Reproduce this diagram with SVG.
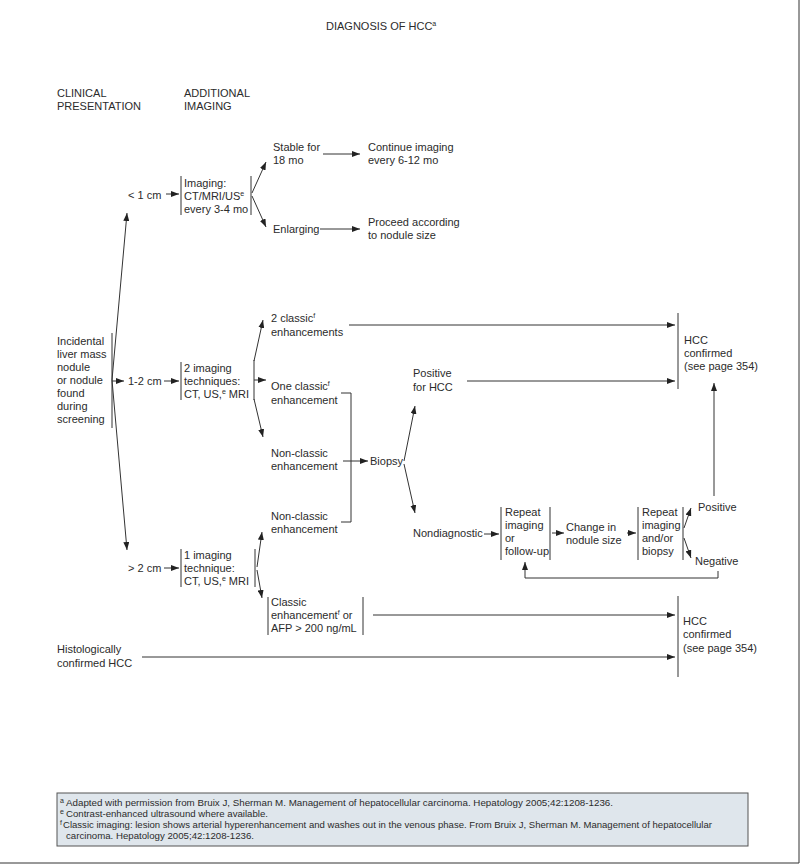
<svg xmlns="http://www.w3.org/2000/svg" width="800" height="865" viewBox="0 0 800 865">
<style>
text{font-family:"Liberation Sans",Arial,sans-serif;font-size:11px;fill:#2b2b2b}
.sup{font-size:7px}
.fn{font-size:9px}
.fs{font-size:7px}
.ln{stroke:#333;stroke-width:1;fill:none}
.ar{stroke:#333;stroke-width:1;fill:none;marker-end:url(#ah)}
.bar{stroke:#333;stroke-width:1}
</style>
<defs>
<marker id="ah" viewBox="0 0 8 6" refX="8" refY="3" markerWidth="8" markerHeight="6" orient="auto" markerUnits="userSpaceOnUse"><path d="M0,0L8,3L0,6z" fill="#222"/></marker>
</defs>
<rect width="800" height="865" fill="#fff"/>
<path d="M799,0V863H0" class="ln"/>

<g id="title"><text x="326" y="30">DIAGNOSIS OF HCC<tspan class="sup" dy="-4">a</tspan></text></g>
<g id="hdr-clinical"><text x="57" y="97">CLINICAL</text><text x="57" y="110">PRESENTATION</text></g>
<g id="hdr-imaging"><text x="184" y="97">ADDITIONAL</text><text x="184" y="110">IMAGING</text></g>

<g id="n-incidental">
<line class="bar" x1="112" y1="333" x2="112" y2="428"/>
<text x="57" y="345">Incidental</text><text x="57" y="358">liver mass</text><text x="57" y="371">nodule</text><text x="57" y="384">or nodule</text><text x="57" y="397">found</text><text x="57" y="410">during</text><text x="57" y="423">screening</text>
</g>
<g id="n-lt1"><text x="128" y="199">&lt; 1 cm</text></g>
<g id="n-12"><text x="128" y="385">1-2 cm</text></g>
<g id="n-gt2"><text x="128" y="572">&gt; 2 cm</text></g>

<g id="n-imaging1">
<line class="bar" x1="181" y1="176" x2="181" y2="215"/><line class="bar" x1="251" y1="176" x2="251" y2="215"/>
<text x="184" y="187">Imaging:</text><text x="184" y="200">CT/MRI/US<tspan class="sup" dy="-4">e</tspan></text><text x="184" y="213">every 3-4 mo</text>
</g>
<g id="n-stable"><text x="273" y="151">Stable for</text><text x="273" y="164">18 mo</text></g>
<g id="n-continue"><text x="368" y="151">Continue imaging</text><text x="368" y="164">every 6-12 mo</text></g>
<g id="n-enlarging"><text x="273" y="233">Enlarging</text></g>
<g id="n-proceed"><text x="368" y="226">Proceed according</text><text x="368" y="239">to nodule size</text></g>

<g id="n-imaging2">
<line class="bar" x1="181" y1="362" x2="181" y2="400"/><line class="bar" x1="254" y1="360" x2="254" y2="400"/>
<text x="184" y="372">2 imaging</text><text x="184" y="385">techniques:</text><text x="184" y="398">CT, US,<tspan class="sup" dy="-4">e</tspan><tspan dy="4"> MRI</tspan></text>
</g>
<g id="n-2classic"><text x="271" y="322">2 classic<tspan class="sup" dy="-4">f</tspan></text><text x="271" y="336">enhancements</text></g>
<g id="n-1classic"><text x="271" y="390">One classic<tspan class="sup" dy="-4">f</tspan></text><text x="271" y="404">enhancement</text></g>
<g id="n-nonclassic1"><text x="271" y="457">Non-classic</text><text x="271" y="470">enhancement</text></g>
<g id="n-nonclassic2"><text x="271" y="520">Non-classic</text><text x="271" y="533">enhancement</text></g>
<g id="n-biopsy"><text x="370" y="465">Biopsy</text></g>
<g id="n-positive-hcc"><text x="413" y="377">Positive</text><text x="413" y="391">for HCC</text></g>
<g id="n-nondiag"><text x="413" y="537">Nondiagnostic</text></g>
<g id="n-hcc1">
<line class="bar" x1="678" y1="313" x2="678" y2="389"/>
<text x="684" y="344">HCC</text><text x="684" y="357">confirmed</text><text x="684" y="370">(see page 354)</text>
</g>
<g id="n-repeat1">
<line class="bar" x1="501" y1="507" x2="501" y2="560"/><line class="bar" x1="550" y1="507" x2="550" y2="560"/>
<text x="505" y="516">Repeat</text><text x="505" y="529">imaging</text><text x="505" y="542">or</text><text x="505" y="555">follow-up</text>
</g>
<g id="n-change"><text x="566" y="531">Change in</text><text x="566" y="544">nodule size</text></g>
<g id="n-repeat2">
<line class="bar" x1="638" y1="507" x2="638" y2="560"/><line class="bar" x1="683" y1="507" x2="683" y2="560"/>
<text x="642" y="516">Repeat</text><text x="642" y="529">imaging</text><text x="642" y="542">and/or</text><text x="642" y="555">biopsy</text>
</g>
<g id="n-positive"><text x="698" y="511">Positive</text></g>
<g id="n-negative"><text x="695" y="565">Negative</text></g>

<g id="n-imaging3">
<line class="bar" x1="181" y1="549" x2="181" y2="587"/><line class="bar" x1="255" y1="549" x2="255" y2="587"/>
<text x="184" y="559">1 imaging</text><text x="184" y="572">technique:</text><text x="184" y="585">CT, US,<tspan class="sup" dy="-4">e</tspan><tspan dy="4"> MRI</tspan></text>
</g>
<g id="n-classic">
<line class="bar" x1="268" y1="597" x2="268" y2="635"/><line class="bar" x1="363" y1="597" x2="363" y2="635"/>
<text x="271" y="606">Classic</text><text x="271" y="619">enhancement<tspan class="sup" dy="-4">f</tspan><tspan dy="4"> or</tspan></text><text x="271" y="632">AFP &gt; 200 ng/mL</text>
</g>
<g id="n-hcc2">
<line class="bar" x1="678" y1="596" x2="678" y2="677"/>
<text x="683" y="625">HCC</text><text x="683" y="638">confirmed</text><text x="683" y="652">(see page 354)</text>
</g>
<g id="n-histo"><text x="57" y="653">Histologically</text><text x="57" y="667">confirmed HCC</text></g>

<g id="connectors">
<path class="ar" d="M112,380L127,213"/>
<path class="ar" d="M112,380L127,550"/>
<path class="ar" d="M112,381L124,381"/>
<path class="ar" d="M166,194L179,194"/>
<path class="ar" d="M164,381L179,381"/>
<path class="ar" d="M164,568L179,568"/>
<path class="ar" d="M252,193L266,162"/>
<path class="ar" d="M252,196L266,227"/>
<path class="ar" d="M323,154L360,154"/>
<path class="ar" d="M320,229L360,229"/>
<path class="ar" d="M254,361L263,320"/>
<path class="ar" d="M254,380L266,380"/>
<path class="ar" d="M254,399L263,437"/>
<path class="ar" d="M349,325L675,325"/>
<path class="ar" d="M467,381L675,381"/>
<path class="ln" d="M341,393H351V522H341"/>
<path class="ar" d="M343,461L368,461"/>
<path class="ar" d="M404,461L415,406"/>
<path class="ar" d="M404,464L415,513"/>
<path class="ar" d="M484,534L499,534"/>
<path class="ar" d="M552,533L564,533"/>
<path class="ar" d="M627,533L636,533"/>
<path class="ar" d="M684,528L691,508"/>
<path class="ar" d="M684,538L691,558"/>
<path class="ar" d="M714,496L714,383"/>
<path class="ar" d="M718,571V578H525V562"/>
<path class="ar" d="M257,567L262,532"/>
<path class="ar" d="M257,570L262,598"/>
<path class="ar" d="M373,615L675,615"/>
<path class="ar" d="M142,657L675,657"/>
</g>

<g id="footnotes">
<rect x="57" y="793" width="691" height="53" fill="#dfe6ec" stroke="#555" stroke-width="1"/>
<text class="fs" x="60" y="803">a</text><text class="fn" x="66" y="806" textLength="547" lengthAdjust="spacingAndGlyphs">Adapted with permission from Bruix J, Sherman M. Management of hepatocellular carcinoma. Hepatology 2005;42:1208-1236.</text>
<text class="fs" x="60" y="814">e</text><text class="fn" x="66" y="817" textLength="202" lengthAdjust="spacingAndGlyphs">Contrast-enhanced ultrasound where available.</text>
<text class="fs" x="60" y="825">f</text><text class="fn" x="63" y="828" textLength="649" lengthAdjust="spacingAndGlyphs">Classic imaging: lesion shows arterial hyperenhancement and washes out in the venous phase. From Bruix J, Sherman M. Management of hepatocellular</text>
<text class="fn" x="66" y="839" textLength="188" lengthAdjust="spacingAndGlyphs">carcinoma. Hepatology 2005;42:1208-1236.</text>
</g>
</svg>
